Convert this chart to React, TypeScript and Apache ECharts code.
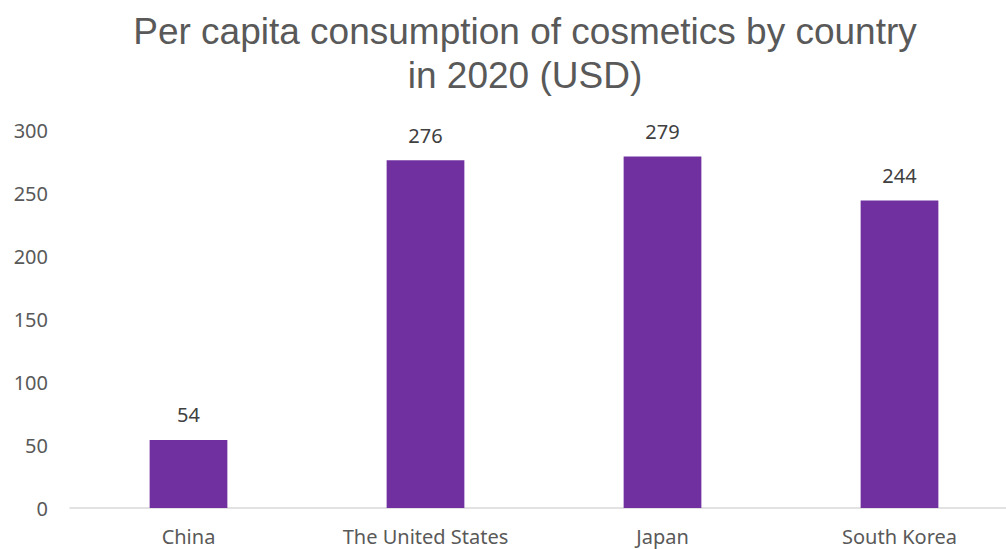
import React, { useEffect, useRef } from "react";
import * as echarts from "echarts";

const countries = ["China", "The United States", "Japan", "South Korea"];
const values = [54, 276, 279, 244];
const yTicks = { min: 0, max: 300, interval: 50 };

export default function App() {
  const ref = useRef<HTMLDivElement>(null);
  useEffect(() => {
    const chart = echarts.init(ref.current!, null, { renderer: "svg" });
    chart.setOption({
      animation: false,
      backgroundColor: "#ffffff",
      title: {
        text: "Per capita consumption of cosmetics by country\nin 2020 (USD)",
        left: 520,
        top: 4,
        textAlign: "center",
        textStyle: {
          fontFamily: "Liberation Sans, Arial, sans-serif",
          fontSize: 37,
          fontWeight: "normal",
          color: "#595959",
          lineHeight: 44,
        },
      },
      grid: { left: 70, top: 130, width: 948, height: 378, containLabel: false },
      xAxis: {
        type: "category",
        data: countries,
        axisLine: { lineStyle: { color: "#d9d9d9", width: 1.5 } },
        axisTick: { show: false },
        axisLabel: {
          color: "#595959",
          fontSize: 20,
          fontFamily: "Noto Sans, sans-serif",
          margin: 18,
        },
      },
      yAxis: {
        type: "value",
        min: yTicks.min,
        max: yTicks.max,
        interval: yTicks.interval,
        splitLine: { show: false },
        axisLine: { show: false },
        axisTick: { show: false },
        axisLabel: {
          color: "#595959",
          fontSize: 20,
          fontFamily: "Noto Sans, sans-serif",
          margin: 22,
        },
      },
      series: [
        {
          type: "bar",
          data: values,
          barWidth: "32.8%",
          itemStyle: { color: "#7030A0" },
          label: {
            show: true,
            position: "top",
            distance: 15,
            color: "#404040",
            fontSize: 20,
            fontFamily: "Noto Sans, sans-serif",
          },
        },
      ],
    });
    return () => chart.dispose();
  }, []);
  return (
    <div
      style={{
        position: "absolute",
        left: 0,
        top: 0,
        width: 1006,
        height: 549,
        overflow: "hidden",
        background: "#ffffff",
      }}
    >
      <div ref={ref} style={{ width: 1030, height: 549 }} />
    </div>
  );
}
